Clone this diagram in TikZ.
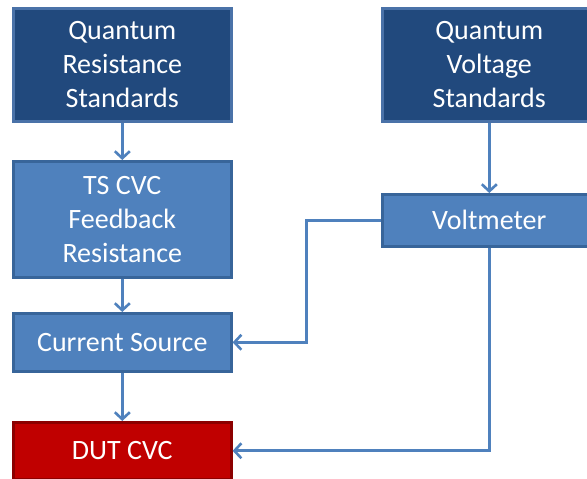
\documentclass[tikz,border=0pt]{standalone}
\usepackage{fontspec}
\setmainfont{Carlito}
\usetikzlibrary{arrows.meta}
\definecolor{navyfill}{HTML}{21497D}
\definecolor{navyline}{HTML}{4A72A8}
\definecolor{midfill}{HTML}{4F81BD}
\definecolor{midline}{HTML}{38659A}
\definecolor{redfill}{HTML}{C00000}
\definecolor{redline}{HTML}{8C0000}
\definecolor{wire}{HTML}{4F81BD}
\tikzset{
  box/.style={draw, line width=2.6pt, text=white, align=center,
    font=\fontsize{28}{34}\selectfont, inner sep=0pt, anchor=north west},
  topbox/.style={box, fill=navyfill, draw=navyline},
  midbox/.style={box, fill=midfill, draw=midline},
  dutbox/.style={box, fill=redfill, draw=redline},
  link/.style={draw=wire, line width=3pt, -{Straight Barb[length=7pt,width=15pt,line width=2.6pt]}}
}
\begin{document}
\begin{tikzpicture}[x=1pt,y=-1pt]
\useasboundingbox (0,0) rectangle (587,479);
% standards
\node[topbox, minimum width=218pt, minimum height=113pt] (qrs) at (12,7)
  {Quantum\\Resistance\\Standards};
\node[topbox, minimum width=214pt, minimum height=113pt] (qvs) at (381,7)
  {Quantum\\Voltage\\Standards};
% intermediate instruments
\node[midbox, minimum width=218pt, minimum height=116pt] (ts) at (12,160)
  {TS CVC\\Feedback\\Resistance};
\node[midbox, minimum width=214pt, minimum height=52pt] (vm) at (381,193)
  {Voltmeter};
\node[midbox, minimum width=218pt, minimum height=58pt] (cs) at (12,312)
  {Current Source};
% device under test
\node[dutbox, minimum width=218pt, minimum height=57pt] (dut) at (12,421)
  {DUT CVC};
% vertical chain
\draw[link] (qrs.south) -- (ts.north);
\draw[link] (ts.south) -- (cs.north);
\draw[link] (cs.south) -- (dut.north);
\draw[link] (qvs.south) -- (vm.north);
% feedback paths from the voltmeter
\coordinate (bend) at (306,0);
\draw[link] (vm.west) -| (bend |- cs.east) -- (cs.east);
\draw[link] (vm.south) |- (dut.east);
\end{tikzpicture}
\end{document}
